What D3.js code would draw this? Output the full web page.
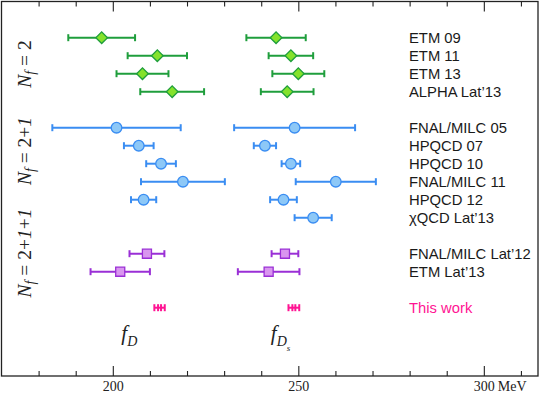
<!DOCTYPE html>
<html>
<head>
<meta charset="utf-8">
<script src="https://cdn.jsdelivr.net/npm/d3@7"></script>
<style>
  body { margin: 0; background: #fff; }
  svg { display: block; }
</style>
</head>
<body>
<div id="chart"></div>
<script>
var width = 540, height = 394;

// one entry per row, top to bottom
var labels = ["ETM 09", "ETM 11", "ETM 13", "ALPHA Lat\u201913",
  "FNAL/MILC 05", "HPQCD 07", "HPQCD 10", "FNAL/MILC 11", "HPQCD 12", "\u03c7QCD Lat\u201913",
  "FNAL/MILC Lat\u201912", "ETM Lat\u201913", "This work"];
var group = [0, 0, 0, 0, 1, 1, 1, 1, 1, 1, 2, 2, 3];
var fD    = [197, 212, 208, 216, 201, 207, 213, 218.9, 208.3, null, 209.2, 202, 212.6];
var fDerr = [9, 8, 7, 8.6, 17.3, 4, 4, 11.3, 3.4, null, 4.7, 8, 1.4];
var fDs    = [244, 248, 250, 247, 249, 241, 248, 260.1, 246, 254, 246.4, 242, 248.8];
var fDserr = [8, 6, 7, 7.1, 16.3, 3, 2.5, 10.8, 3.6, 5, 3.6, 8.3, 1.45];
// statistical part, only for this work
var fDstat = [null, null, null, null, null, null, null, null, null, null, null, null, 0.4];
var fDsstat = [null, null, null, null, null, null, null, null, null, null, null, null, 0.4];

var groupNames = ["2", "2+1", "2+1+1"];
var majorTicks = [200, 250, 300];
var minorTicks = [180, 190, 210, 220, 230, 240, 260, 270, 280, 290, 310];

var lineColor = ["#1f9e3c", "#3a8df2", "#9a2fd6", "#ff1493"];
var fillColor = ["#84e22c", "#8dc8f7", "#d996ef", "#ff1493"];
var shapes = [d3.symbolSquare, d3.symbolCircle, d3.symbolSquare, null];
var sizes = [68, 88, 82, 0];

var x = d3.scaleLinear().domain([170, 314.6]).range([1.5, 538]);
var y = d3.scaleLinear().domain([0, 15]).range([37.7, 307.7]);

var svg = d3.select("#chart").append("svg")
  .attr("width", width).attr("height", height);

// build point list
var points = [];
labels.forEach(function(l, i) {
  if (fD[i] != null) points.push({v: fD[i], e: fDerr[i], s: fDstat[i], g: group[i], r: i + group[i]});
  if (fDs[i] != null) points.push({v: fDs[i], e: fDserr[i], s: fDsstat[i], g: group[i], r: i + group[i]});
});

// frame
svg.append("rect")
  .attr("x", 1.5).attr("y", 1.5)
  .attr("width", 536.5).attr("height", 374.5)
  .attr("fill", "none").attr("stroke", "#222").attr("stroke-width", 1.3);

// axes, ticks pointing inward
function styleAxis(g) {
  g.select(".domain").remove();
  g.selectAll(".tick line").attr("stroke", "#222").attr("stroke-width", 1.1);
}
svg.append("g").attr("transform", "translate(0,376)")
  .call(d3.axisBottom(x).tickValues(majorTicks).tickSizeInner(-10).tickPadding(5))
  .call(styleAxis)
  .selectAll("text")
  .attr("font-family", "'Liberation Serif', serif")
  .attr("font-size", "14px").attr("fill", "#222");
svg.append("g").attr("transform", "translate(0,376)")
  .call(d3.axisBottom(x).tickValues(minorTicks).tickSizeInner(-5).tickFormat(""))
  .call(styleAxis);
svg.append("g").attr("transform", "translate(0,1.5)")
  .call(d3.axisTop(x).tickValues(majorTicks).tickSizeInner(-10).tickFormat(""))
  .call(styleAxis);
svg.append("g").attr("transform", "translate(0,1.5)")
  .call(d3.axisTop(x).tickValues(minorTicks).tickSizeInner(-5).tickFormat(""))
  .call(styleAxis);
svg.append("text")
  .attr("x", x(300) + 14).attr("y", 391)
  .attr("font-family", "'Liberation Serif', serif")
  .attr("font-size", "14px").attr("fill", "#222")
  .text("MeV");

// error bars
var bars = svg.append("g").selectAll("g").data(points).enter().append("g");
bars.append("line")
  .attr("x1", function(d) { return x(d.v - d.e); })
  .attr("x2", function(d) { return x(d.v + d.e); })
  .attr("y1", function(d) { return y(d.r); })
  .attr("y2", function(d) { return y(d.r); })
  .attr("stroke", function(d) { return lineColor[d.g]; })
  .attr("stroke-width", 2);
bars.selectAll(".cap")
  .data(function(d) {
    var c = [d.v - d.e, d.v + d.e];
    if (d.s != null) c.push(d.v - d.s, d.v + d.s);
    return c.map(function(v) { return {v: v, d: d}; });
  })
  .enter().append("line")
  .attr("class", "cap")
  .attr("x1", function(c) { return x(c.v); })
  .attr("x2", function(c) { return x(c.v); })
  .attr("y1", function(c) { return y(c.d.r) - 3.5; })
  .attr("y2", function(c) { return y(c.d.r) + 3.5; })
  .attr("stroke", function(c) { return lineColor[c.d.g]; })
  .attr("stroke-width", 2);

// markers
svg.append("g").selectAll("path")
  .data(points.filter(function(d) { return shapes[d.g]; }))
  .enter().append("path")
  .attr("d", function(d) { return d3.symbol().type(shapes[d.g]).size(sizes[d.g])(); })
  .attr("transform", function(d) {
    return "translate(" + x(d.v) + "," + y(d.r) + ")" + (d.g === 0 ? " rotate(45)" : "");
  })
  .attr("fill", function(d) { return fillColor[d.g]; })
  .attr("stroke", function(d) { return lineColor[d.g]; })
  .attr("stroke-width", 1.3);

// row labels
svg.append("g").selectAll("text")
  .data(labels).enter().append("text")
  .attr("x", 409)
  .attr("y", function(d, i) { return y(i + group[i]); })
  .attr("dy", "0.36em")
  .attr("font-family", "'Liberation Sans', Arial, sans-serif")
  .attr("font-size", "14.8px")
  .attr("fill", function(d, i) { return group[i] === 3 ? "#ff1493" : "#1a1a1a"; })
  .text(function(d) { return d; });

// N_f group labels
var gCenter = [64, 151, 253];
var nf = svg.append("g").selectAll("text")
  .data(groupNames).enter().append("text")
  .attr("transform", function(d, i) { return "translate(31," + gCenter[i] + ") rotate(-90)"; })
  .attr("text-anchor", "middle")
  .attr("font-family", "'Liberation Serif', serif")
  .attr("font-size", "19.5px")
  .attr("fill", "#222");
nf.append("tspan").attr("font-style", "italic").text("N");
nf.append("tspan").attr("font-style", "italic").attr("font-size", "14px").attr("dy", 4).text("f");
nf.append("tspan").attr("dy", -4).text(" = ");
nf.each(function(d) {
  var t = d3.select(this);
  d.split(/(\+)/).forEach(function(p) {
    t.append("tspan").attr("font-style", p === "1" ? "italic" : "normal").text(p);
  });
});

// f_D and f_Ds labels
var fl = svg.append("g")
  .attr("font-family", "'Liberation Serif', serif")
  .attr("font-style", "italic").attr("fill", "#222");
var t1 = fl.append("text").attr("x", x(202.3)).attr("y", 340).attr("font-size", "21px");
t1.append("tspan").text("f");
t1.append("tspan").attr("font-size", "14px").attr("dy", 6).text("D");
var t2 = fl.append("text").attr("x", x(242.6)).attr("y", 340).attr("font-size", "21px");
t2.append("tspan").text("f");
t2.append("tspan").attr("font-size", "14px").attr("dy", 6).text("D");
t2.append("tspan").attr("font-size", "9px").attr("dy", 5).text("s");
</script>
</body>
</html>
